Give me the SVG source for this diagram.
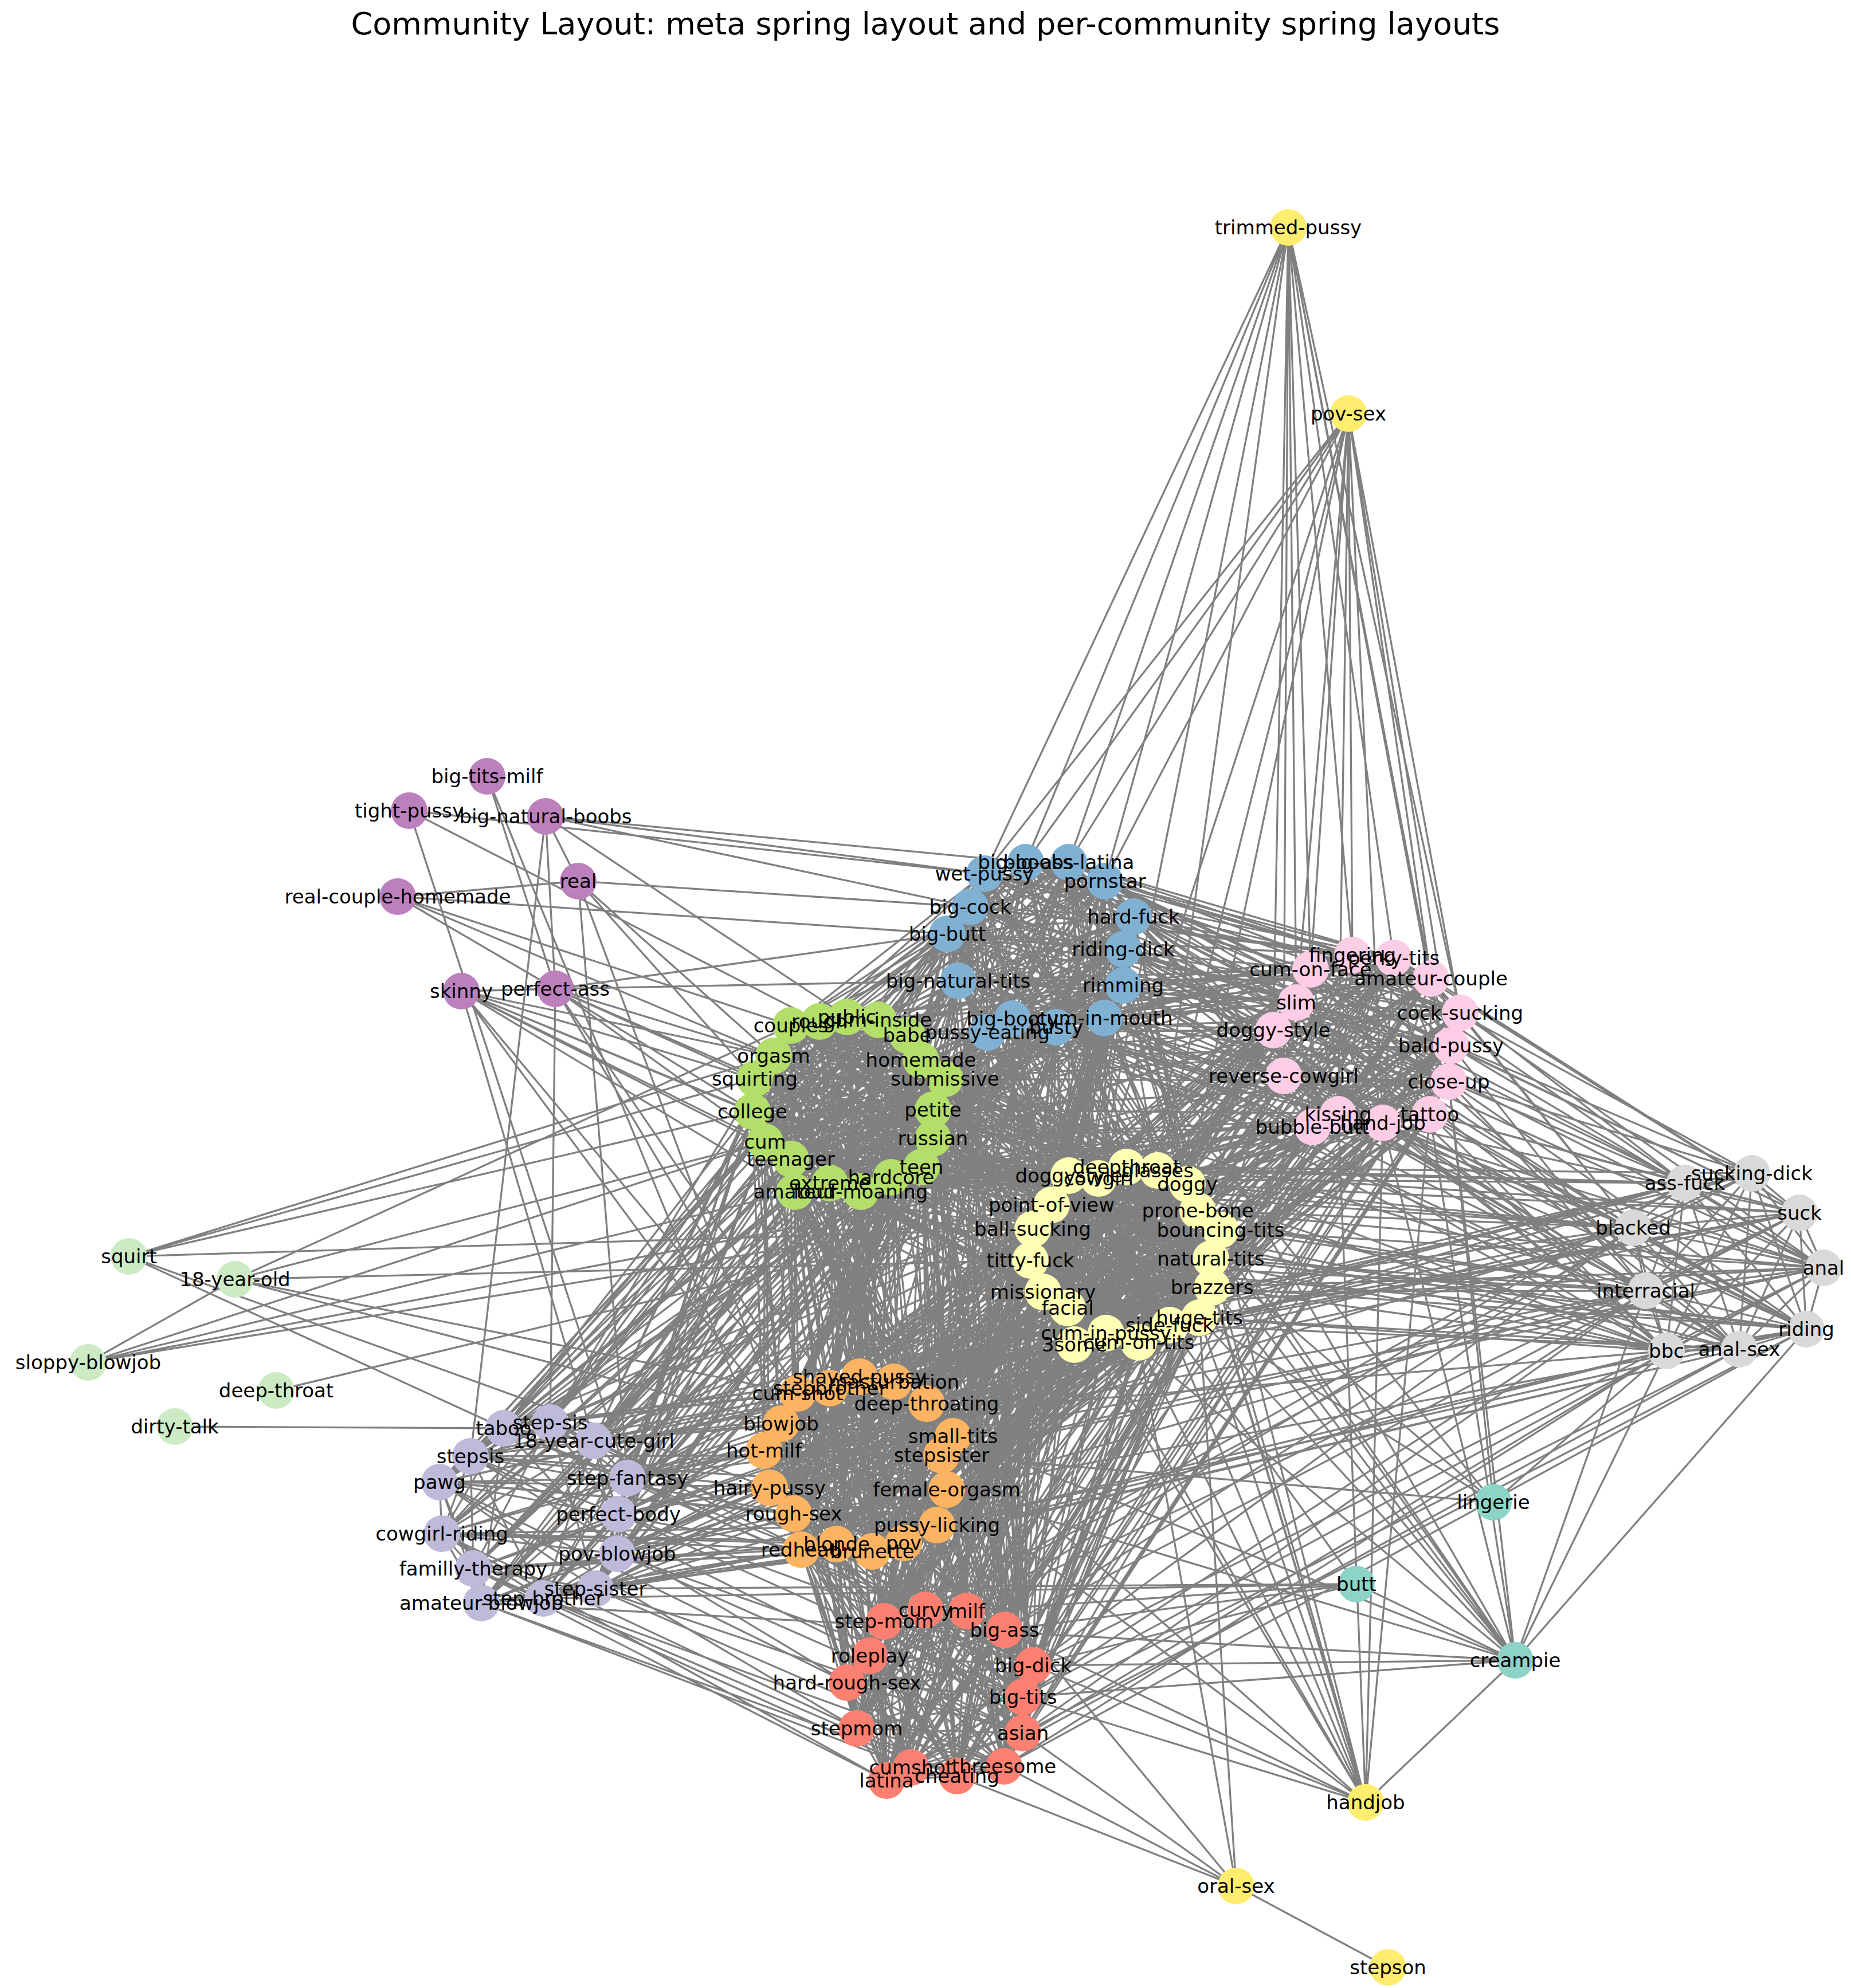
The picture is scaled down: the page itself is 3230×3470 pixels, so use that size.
<svg xmlns="http://www.w3.org/2000/svg" width="3230" height="3470" viewBox="0 0 3230 3470">
<style>
.e{fill:none;stroke:#808080;stroke-width:3.3;stroke-linejoin:round}
text{font-family:"DejaVu Sans","Liberation Sans",sans-serif;font-size:34px;text-anchor:middle;dominant-baseline:central;fill:#000}
text.title{font-size:54px;dominant-baseline:auto}
.cb{fill:#80b1d3}.cp{fill:#fccde5}.cg{fill:#b3de69}.cy{fill:#ffffb3}.co{fill:#fdb462}.cr{fill:#fb8072}
.cl{fill:#bebada}.cx{fill:#d9d9d9}.cu{fill:#bc80bd}.cw{fill:#ccebc5}.cz{fill:#ffed6f}.ct{fill:#8dd3c7}
</style>
<rect width="3230" height="3470" fill="#ffffff"/>
<text class="title" x="1615" y="60">Community Layout: meta spring layout and per-community spring layouts</text>
<g id="edges">
<g id="edges-blue">
<polygon class="e" points="1790,1505 1865,1505 1928,1538 1978,1600 1960,1657 1960,1720 1927,1777 1843,1793 1767,1778 1723,1802 1672,1712 1653,1630 1693,1583 1718,1525"/>
<polygon class="e" points="1790,1505 1928,1538 1960,1657 1927,1777 1767,1778 1672,1712 1693,1583"/>
<polygon class="e" points="1865,1505 1978,1600 1960,1720 1843,1793 1723,1802 1653,1630 1718,1525"/>
<polygon class="e" points="1790,1505 1978,1600 1927,1777 1723,1802 1693,1583 1865,1505 1960,1657 1843,1793 1672,1712 1718,1525 1928,1538 1960,1720 1767,1778 1653,1630"/>
<polygon class="e" points="1790,1505 1960,1657 1767,1778 1693,1583 1928,1538 1927,1777 1672,1712"/>
<polygon class="e" points="1865,1505 1960,1720 1723,1802 1718,1525 1978,1600 1843,1793 1653,1630"/>
<polygon class="e" points="1790,1505 1960,1720 1672,1712 1865,1505 1927,1777 1653,1630 1928,1538 1843,1793 1693,1583 1978,1600 1767,1778 1718,1525 1960,1657 1723,1802"/>
<polygon class="e" points="1790,1505 1927,1777 1693,1583 1960,1657 1672,1712 1928,1538 1767,1778"/>
<polygon class="e" points="1865,1505 1843,1793 1718,1525 1960,1720 1653,1630 1978,1600 1723,1802"/>
<path class="e" d="M1790 1505L1843 1793M1865 1505L1767 1778M1928 1538L1723 1802M1978 1600L1672 1712M1960 1657L1653 1630M1960 1720L1693 1583M1927 1777L1718 1525"/>
</g>
<g id="edges-pink">
<polygon class="e" points="2360,1667 2432,1672 2497,1708 2548,1768 2532,1825 2528,1888 2495,1945 2413,1960 2335,1945 2290,1967 2240,1878 2222,1798 2262,1750 2287,1692"/>
<polygon class="e" points="2360,1667 2497,1708 2532,1825 2495,1945 2335,1945 2240,1878 2262,1750"/>
<polygon class="e" points="2432,1672 2548,1768 2528,1888 2413,1960 2290,1967 2222,1798 2287,1692"/>
<polygon class="e" points="2360,1667 2548,1768 2495,1945 2290,1967 2262,1750 2432,1672 2532,1825 2413,1960 2240,1878 2287,1692 2497,1708 2528,1888 2335,1945 2222,1798"/>
<polygon class="e" points="2360,1667 2532,1825 2335,1945 2262,1750 2497,1708 2495,1945 2240,1878"/>
<polygon class="e" points="2432,1672 2528,1888 2290,1967 2287,1692 2548,1768 2413,1960 2222,1798"/>
<polygon class="e" points="2360,1667 2528,1888 2240,1878 2432,1672 2495,1945 2222,1798 2497,1708 2413,1960 2262,1750 2548,1768 2335,1945 2287,1692 2532,1825 2290,1967"/>
<polygon class="e" points="2360,1667 2495,1945 2262,1750 2532,1825 2240,1878 2497,1708 2335,1945"/>
<polygon class="e" points="2432,1672 2413,1960 2287,1692 2528,1888 2222,1798 2548,1768 2290,1967"/>
<path class="e" d="M2360 1667L2413 1960M2432 1672L2335 1945M2497 1708L2290 1967M2548 1768L2240 1878M2532 1825L2222 1798M2528 1888L2262 1750M2495 1945L2287 1692"/>
</g>
<g id="edges-red">
<polygon class="e" points="1615,2810 1687,2812 1753,2845 1803,2907 1785,2962 1785,3025 1752,3083 1670,3100 1590,3085 1547,3108 1495,3017 1478,2937 1518,2890 1543,2830"/>
<polygon class="e" points="1615,2810 1753,2845 1785,2962 1752,3083 1590,3085 1495,3017 1518,2890"/>
<polygon class="e" points="1687,2812 1803,2907 1785,3025 1670,3100 1547,3108 1478,2937 1543,2830"/>
<polygon class="e" points="1615,2810 1803,2907 1752,3083 1547,3108 1518,2890 1687,2812 1785,2962 1670,3100 1495,3017 1543,2830 1753,2845 1785,3025 1590,3085 1478,2937"/>
<polygon class="e" points="1615,2810 1785,2962 1590,3085 1518,2890 1753,2845 1752,3083 1495,3017"/>
<polygon class="e" points="1687,2812 1785,3025 1547,3108 1543,2830 1803,2907 1670,3100 1478,2937"/>
<polygon class="e" points="1615,2810 1785,3025 1495,3017 1687,2812 1752,3083 1478,2937 1753,2845 1670,3100 1518,2890 1803,2907 1590,3085 1543,2830 1785,2962 1547,3108"/>
<polygon class="e" points="1615,2810 1752,3083 1518,2890 1785,2962 1495,3017 1753,2845 1590,3085"/>
<polygon class="e" points="1687,2812 1670,3100 1543,2830 1785,3025 1478,2937 1803,2907 1547,3108"/>
<path class="e" d="M1615 2810L1670 3100M1687 2812L1590 3085M1753 2845L1547 3108M1803 2907L1495 3017M1785 2962L1478 2937M1785 3025L1518 2890M1752 3083L1543 2830"/>
</g>
<g id="edges-green">
<polygon class="e" points="1478,1775 1533,1780 1583,1807 1607,1850 1649,1883 1628,1937 1628,1987 1608,2037 1555,2055 1502,2080 1448,2065 1387,2080 1380,2023 1335,1993 1313,1940 1317,1883 1350,1843 1380,1790 1430,1783"/>
<polygon class="e" points="1478,1775 1583,1807 1649,1883 1628,1987 1555,2055 1448,2065 1380,2023 1313,1940 1350,1843 1430,1783 1533,1780 1607,1850 1628,1937 1608,2037 1502,2080 1387,2080 1335,1993 1317,1883 1380,1790"/>
<polygon class="e" points="1478,1775 1607,1850 1628,1987 1502,2080 1380,2023 1317,1883 1430,1783 1583,1807 1628,1937 1555,2055 1387,2080 1313,1940 1380,1790 1533,1780 1649,1883 1608,2037 1448,2065 1335,1993 1350,1843"/>
<polygon class="e" points="1478,1775 1649,1883 1555,2055 1380,2023 1350,1843 1533,1780 1628,1937 1502,2080 1335,1993 1380,1790 1583,1807 1628,1987 1448,2065 1313,1940 1430,1783 1607,1850 1608,2037 1387,2080 1317,1883"/>
<polygon class="e" points="1478,1775 1628,1937 1448,2065 1317,1883 1533,1780 1628,1987 1387,2080 1350,1843 1583,1807 1608,2037 1380,2023 1380,1790 1607,1850 1555,2055 1335,1993 1430,1783 1649,1883 1502,2080 1313,1940"/>
<polygon class="e" points="1478,1775 1628,1987 1380,2023 1430,1783 1628,1937 1387,2080 1380,1790 1649,1883 1448,2065 1350,1843 1607,1850 1502,2080 1317,1883 1583,1807 1555,2055 1313,1940 1533,1780 1608,2037 1335,1993"/>
<polygon class="e" points="1478,1775 1608,2037 1313,1940 1583,1807 1502,2080 1350,1843 1649,1883 1387,2080 1430,1783 1628,1987 1335,1993 1533,1780 1555,2055 1317,1883 1607,1850 1448,2065 1380,1790 1628,1937 1380,2023"/>
<polygon class="e" points="1478,1775 1555,2055 1350,1843 1628,1937 1335,1993 1583,1807 1448,2065 1430,1783 1608,2037 1317,1883 1649,1883 1380,2023 1533,1780 1502,2080 1380,1790 1628,1987 1313,1940 1607,1850 1387,2080"/>
<polygon class="e" points="1478,1775 1502,2080 1430,1783 1555,2055 1380,1790 1608,2037 1350,1843 1628,1987 1317,1883 1628,1937 1313,1940 1649,1883 1335,1993 1607,1850 1380,2023 1583,1807 1387,2080 1533,1780 1448,2065"/>
</g>
<g id="edges-yellow">
<polygon class="e" points="1966,2037 2020,2043 2072,2067 2090,2113 2130,2147 2113,2197 2115,2247 2093,2300 2041,2313 1987,2343 1930,2327 1875,2347 1863,2283 1820,2255 1798,2200 1802,2145 1835,2103 1865,2052 1917,2057"/>
<polygon class="e" points="1966,2037 2072,2067 2130,2147 2115,2247 2041,2313 1930,2327 1863,2283 1798,2200 1835,2103 1917,2057 2020,2043 2090,2113 2113,2197 2093,2300 1987,2343 1875,2347 1820,2255 1802,2145 1865,2052"/>
<polygon class="e" points="1966,2037 2090,2113 2115,2247 1987,2343 1863,2283 1802,2145 1917,2057 2072,2067 2113,2197 2041,2313 1875,2347 1798,2200 1865,2052 2020,2043 2130,2147 2093,2300 1930,2327 1820,2255 1835,2103"/>
<polygon class="e" points="1966,2037 2130,2147 2041,2313 1863,2283 1835,2103 2020,2043 2113,2197 1987,2343 1820,2255 1865,2052 2072,2067 2115,2247 1930,2327 1798,2200 1917,2057 2090,2113 2093,2300 1875,2347 1802,2145"/>
<polygon class="e" points="1966,2037 2113,2197 1930,2327 1802,2145 2020,2043 2115,2247 1875,2347 1835,2103 2072,2067 2093,2300 1863,2283 1865,2052 2090,2113 2041,2313 1820,2255 1917,2057 2130,2147 1987,2343 1798,2200"/>
<polygon class="e" points="1966,2037 2115,2247 1863,2283 1917,2057 2113,2197 1875,2347 1865,2052 2130,2147 1930,2327 1835,2103 2090,2113 1987,2343 1802,2145 2072,2067 2041,2313 1798,2200 2020,2043 2093,2300 1820,2255"/>
<polygon class="e" points="1966,2037 2093,2300 1798,2200 2072,2067 1987,2343 1835,2103 2130,2147 1875,2347 1917,2057 2115,2247 1820,2255 2020,2043 2041,2313 1802,2145 2090,2113 1930,2327 1865,2052 2113,2197 1863,2283"/>
<polygon class="e" points="1966,2037 2041,2313 1835,2103 2113,2197 1820,2255 2072,2067 1930,2327 1917,2057 2093,2300 1802,2145 2130,2147 1863,2283 2020,2043 1987,2343 1865,2052 2115,2247 1798,2200 2090,2113 1875,2347"/>
<polygon class="e" points="1966,2037 1987,2343 1917,2057 2041,2313 1865,2052 2093,2300 1835,2103 2115,2247 1802,2145 2113,2197 1798,2200 2130,2147 1820,2255 2090,2113 1863,2283 2072,2067 1875,2347 2020,2043 1930,2327"/>
</g>
<g id="edges-orange">
<polygon class="e" points="1500,2403 1560,2412 1617,2450 1663,2507 1643,2540 1652,2600 1635,2662 1577,2693 1522,2708 1460,2695 1398,2705 1385,2642 1343,2597 1333,2532 1363,2485 1392,2432 1448,2423"/>
<polygon class="e" points="1500,2403 1617,2450 1643,2540 1635,2662 1522,2708 1398,2705 1343,2597 1363,2485 1448,2423 1560,2412 1663,2507 1652,2600 1577,2693 1460,2695 1385,2642 1333,2532 1392,2432"/>
<polygon class="e" points="1500,2403 1663,2507 1635,2662 1460,2695 1343,2597 1392,2432 1560,2412 1643,2540 1577,2693 1398,2705 1333,2532 1448,2423 1617,2450 1652,2600 1522,2708 1385,2642 1363,2485"/>
<polygon class="e" points="1500,2403 1643,2540 1522,2708 1343,2597 1448,2423 1663,2507 1577,2693 1385,2642 1392,2432 1617,2450 1635,2662 1398,2705 1363,2485 1560,2412 1652,2600 1460,2695 1333,2532"/>
<polygon class="e" points="1500,2403 1652,2600 1398,2705 1392,2432 1663,2507 1522,2708 1333,2532 1560,2412 1635,2662 1385,2642 1448,2423 1643,2540 1460,2695 1363,2485 1617,2450 1577,2693 1343,2597"/>
<polygon class="e" points="1500,2403 1635,2662 1343,2597 1560,2412 1577,2693 1333,2532 1617,2450 1522,2708 1363,2485 1663,2507 1460,2695 1392,2432 1643,2540 1398,2705 1448,2423 1652,2600 1385,2642"/>
<polygon class="e" points="1500,2403 1577,2693 1363,2485 1643,2540 1385,2642 1560,2412 1522,2708 1392,2432 1652,2600 1343,2597 1617,2450 1460,2695 1448,2423 1635,2662 1333,2532 1663,2507 1398,2705"/>
<polygon class="e" points="1500,2403 1522,2708 1448,2423 1577,2693 1392,2432 1635,2662 1363,2485 1652,2600 1333,2532 1643,2540 1343,2597 1663,2507 1385,2642 1617,2450 1398,2705 1560,2412 1460,2695"/>
</g>
<g id="edges-lavender">
<polygon class="e" points="879,2493 960,2483 1036,2515 1095,2580 1079,2643 1077,2712 1039,2773 948,2790 840,2798 826,2738 771,2677 767,2587 821,2542"/>
<polygon class="e" points="879,2493 1036,2515 1079,2643 1039,2773 840,2798 771,2677 821,2542 960,2483 1095,2580 1077,2712 948,2790 826,2738 767,2587"/>
<polygon class="e" points="879,2493 1095,2580 1039,2773 826,2738 821,2542 1036,2515 1077,2712 840,2798 767,2587 960,2483 1079,2643 948,2790 771,2677"/>
<polygon class="e" points="879,2493 1077,2712 771,2677 1036,2515 948,2790 821,2542 1079,2643 826,2738 960,2483 1039,2773 767,2587 1095,2580 840,2798"/>
</g>
<g id="edges-gray">
<polygon class="e" points="3057,2048 2940,2065 3140,2117 2850,2143 3182,2213 2872,2253 3152,2320 2908,2358 3035,2355"/>
<polygon class="e" points="3057,2048 3140,2117 3182,2213 3152,2320 3035,2355 2940,2065 2850,2143 2872,2253 2908,2358"/>
<polygon class="e" points="3057,2048 2850,2143 3152,2320"/>
<polygon class="e" points="2940,2065 3182,2213 2908,2358"/>
<polygon class="e" points="3140,2117 2872,2253 3035,2355"/>
<polygon class="e" points="3057,2048 3182,2213 3035,2355 2850,2143 2908,2358 3140,2117 3152,2320 2940,2065 2872,2253"/>
</g>
<g id="edges-between">
<polyline class="e" points="1790,1505 1478,1775 1865,1505 1533,1780 1928,1538 1583,1807 1978,1600 1607,1850 1960,1657 1649,1883 1960,1720 1628,1937 1927,1777 1628,1987 1843,1793 1608,2037 1767,1778 1555,2055 1723,1802 1502,2080 1672,1712 1448,2065 1653,1630 1387,2080 1693,1583 1380,2023 1718,1525 1335,1993"/>
<polyline class="e" points="1790,1505 1430,1783 1865,1505 1380,1790 1928,1538 1350,1843 1978,1600 1317,1883 1960,1657 1313,1940 1960,1720 1335,1993 1927,1777 1380,2023 1843,1793 1387,2080 1767,1778 1448,2065 1723,1802 1502,2080 1672,1712 1555,2055 1653,1630 1608,2037 1693,1583 1628,1987 1718,1525 1628,1937"/>
<polyline class="e" points="1790,1505 1628,1937 1865,1505 1628,1987 1928,1538 1608,2037 1978,1600 1555,2055 1960,1657 1502,2080 1960,1720 1448,2065 1927,1777 1387,2080 1843,1793 1380,2023 1767,1778 1335,1993 1723,1802 1313,1940 1672,1712 1317,1883 1653,1630 1350,1843 1693,1583 1380,1790 1718,1525 1430,1783"/>
<polyline class="e" points="1790,1505 2360,1667 1865,1505 2432,1672 1928,1538 2497,1708 1978,1600 2548,1768 1960,1657 2532,1825 1960,1720 2528,1888 1927,1777 2495,1945 1843,1793 2413,1960 1767,1778 2335,1945 1723,1802 2290,1967 1672,1712 2240,1878 1653,1630 2222,1798 1693,1583 2262,1750 1718,1525 2287,1692"/>
<polyline class="e" points="1790,1505 2413,1960 1865,1505 2335,1945 1928,1538 2290,1967 1978,1600 2240,1878 1960,1657 2222,1798 1960,1720 2262,1750 1927,1777 2287,1692 1843,1793 2360,1667 1767,1778 2432,1672 1723,1802 2497,1708 1672,1712 2548,1768 1653,1630 2532,1825 1693,1583 2528,1888 1718,1525 2495,1945"/>
<polyline class="e" points="1790,1505 2548,1768 1865,1505 2532,1825 1928,1538 2528,1888 1978,1600 2495,1945 1960,1657 2413,1960 1960,1720 2335,1945 1927,1777 2290,1967 1843,1793 2240,1878 1767,1778 2222,1798 1723,1802 2262,1750 1672,1712 2287,1692 1653,1630 2360,1667 1693,1583 2432,1672 1718,1525 2497,1708"/>
<polyline class="e" points="1790,1505 1966,2037 1865,1505 2020,2043 1928,1538 2072,2067 1978,1600 2090,2113 1960,1657 2130,2147 1960,1720 2113,2197 1927,1777 2115,2247 1843,1793 2093,2300 1767,1778 2041,2313 1723,1802 1987,2343 1672,1712 1930,2327 1653,1630 1875,2347 1693,1583 1863,2283 1718,1525 1820,2255"/>
<polyline class="e" points="1790,1505 1917,2057 1865,1505 1865,2052 1928,1538 1835,2103 1978,1600 1802,2145 1960,1657 1798,2200 1960,1720 1820,2255 1927,1777 1863,2283 1843,1793 1875,2347 1767,1778 1930,2327 1723,1802 1987,2343 1672,1712 2041,2313 1653,1630 2093,2300 1693,1583 2115,2247 1718,1525 2113,2197"/>
<polyline class="e" points="1790,1505 1987,2343 1865,1505 1930,2327 1928,1538 1875,2347 1978,1600 1863,2283 1960,1657 1820,2255 1960,1720 1798,2200 1927,1777 1802,2145 1843,1793 1835,2103 1767,1778 1865,2052 1723,1802 1917,2057 1672,1712 1966,2037 1653,1630 2020,2043 1693,1583 2072,2067 1718,1525 2090,2113"/>
<polyline class="e" points="1478,1775 1966,2037 1533,1780 2020,2043 1583,1807 2072,2067 1607,1850 2090,2113 1649,1883 2130,2147 1628,1937 2113,2197 1628,1987 2115,2247 1608,2037 2093,2300 1555,2055 2041,2313 1502,2080 1987,2343 1448,2065 1930,2327 1387,2080 1875,2347 1380,2023 1863,2283 1335,1993 1820,2255 1313,1940 1798,2200 1317,1883 1802,2145 1350,1843 1835,2103 1380,1790 1865,2052 1430,1783 1917,2057"/>
<polyline class="e" points="1478,1775 1987,2343 1533,1780 1930,2327 1583,1807 1875,2347 1607,1850 1863,2283 1649,1883 1820,2255 1628,1937 1798,2200 1628,1987 1802,2145 1608,2037 1835,2103 1555,2055 1865,2052 1502,2080 1917,2057 1448,2065 1966,2037 1387,2080 2020,2043 1380,2023 2072,2067 1335,1993 2090,2113 1313,1940 2130,2147 1317,1883 2113,2197 1350,1843 2115,2247 1380,1790 2093,2300 1430,1783 2041,2313"/>
<polyline class="e" points="1478,1775 2113,2197 1533,1780 2115,2247 1583,1807 2093,2300 1607,1850 2041,2313 1649,1883 1987,2343 1628,1937 1930,2327 1628,1987 1875,2347 1608,2037 1863,2283 1555,2055 1820,2255 1502,2080 1798,2200 1448,2065 1802,2145 1387,2080 1835,2103 1380,2023 1865,2052 1335,1993 1917,2057 1313,1940 1966,2037 1317,1883 2020,2043 1350,1843 2072,2067 1380,1790 2090,2113 1430,1783 2130,2147"/>
<polyline class="e" points="2360,1667 1966,2037 2432,1672 2020,2043 2497,1708 2072,2067 2548,1768 2090,2113 2532,1825 2130,2147 2528,1888 2113,2197 2495,1945 2115,2247 2413,1960 2093,2300 2335,1945 2041,2313 2290,1967 1987,2343 2240,1878 1930,2327 2222,1798 1875,2347 2262,1750 1863,2283 2287,1692 1820,2255"/>
<polyline class="e" points="2360,1667 2113,2197 2432,1672 2115,2247 2497,1708 2093,2300 2548,1768 2041,2313 2532,1825 1987,2343 2528,1888 1930,2327 2495,1945 1875,2347 2413,1960 1863,2283 2335,1945 1820,2255 2290,1967 1798,2200 2240,1878 1802,2145 2222,1798 1835,2103 2262,1750 1865,2052 2287,1692 1917,2057"/>
<polyline class="e" points="2360,1667 1930,2327 2432,1672 1875,2347 2497,1708 1863,2283 2548,1768 1820,2255 2532,1825 1798,2200 2528,1888 1802,2145 2495,1945 1835,2103 2413,1960 1865,2052 2335,1945 1917,2057 2290,1967 1966,2037 2240,1878 2020,2043 2222,1798 2072,2067 2262,1750 2090,2113 2287,1692 2130,2147"/>
<polyline class="e" points="1478,1775 1500,2403 1533,1780 1560,2412 1583,1807 1617,2450 1607,1850 1663,2507 1649,1883 1643,2540 1628,1937 1652,2600 1628,1987 1635,2662 1608,2037 1577,2693 1555,2055 1522,2708 1502,2080 1460,2695 1448,2065 1398,2705 1387,2080 1385,2642 1380,2023 1343,2597 1335,1993 1333,2532 1313,1940 1363,2485 1317,1883 1392,2432 1350,1843 1448,2423"/>
<polyline class="e" points="1583,1807 1448,2423 1607,1850 1392,2432 1649,1883 1363,2485 1628,1937 1333,2532 1628,1987 1343,2597 1608,2037 1385,2642 1555,2055 1398,2705 1502,2080 1460,2695 1448,2065 1522,2708 1387,2080 1577,2693 1380,2023 1635,2662 1335,1993 1652,2600 1313,1940 1643,2540 1317,1883 1663,2507 1350,1843 1617,2450 1380,1790 1560,2412 1430,1783 1500,2403"/>
<polyline class="e" points="1478,1775 1522,2708 1533,1780 1460,2695 1583,1807 1398,2705 1607,1850 1385,2642 1649,1883 1343,2597 1628,1937 1333,2532 1628,1987 1363,2485 1608,2037 1392,2432 1555,2055 1448,2423 1502,2080 1500,2403 1448,2065 1560,2412 1387,2080 1617,2450 1380,2023 1663,2507 1335,1993 1643,2540 1313,1940 1652,2600 1317,1883 1635,2662 1350,1843 1577,2693"/>
<polyline class="e" points="1500,2403 1966,2037 1560,2412 2020,2043 1617,2450 2072,2067 1663,2507 2090,2113 1643,2540 2130,2147 1652,2600 2113,2197 1635,2662 2115,2247 1577,2693 2093,2300 1522,2708 2041,2313 1460,2695 1987,2343 1398,2705 1930,2327 1385,2642 1875,2347 1343,2597 1863,2283 1333,2532 1820,2255 1363,2485 1798,2200 1392,2432 1802,2145 1448,2423 1835,2103"/>
<polyline class="e" points="1500,2403 1930,2327 1560,2412 1875,2347 1617,2450 1863,2283 1663,2507 1820,2255 1643,2540 1798,2200 1652,2600 1802,2145 1635,2662 1835,2103 1577,2693 1865,2052 1522,2708 1917,2057 1460,2695 1966,2037 1398,2705 2020,2043 1385,2642 2072,2067 1343,2597 2090,2113 1333,2532 2130,2147 1363,2485 2113,2197 1392,2432 2115,2247 1448,2423 2093,2300"/>
<polyline class="e" points="1500,2403 2113,2197 1560,2412 2115,2247 1617,2450 2093,2300 1663,2507 2041,2313 1643,2540 1987,2343 1652,2600 1930,2327 1635,2662 1875,2347 1577,2693 1863,2283 1522,2708 1820,2255 1460,2695 1798,2200 1398,2705 1802,2145 1385,2642 1835,2103 1343,2597 1865,2052 1333,2532 1917,2057 1363,2485 1966,2037 1392,2432 2020,2043 1448,2423 2072,2067"/>
<polyline class="e" points="1615,2810 1500,2403 1687,2812 1560,2412 1753,2845 1617,2450 1803,2907 1663,2507 1785,2962 1643,2540 1785,3025 1652,2600 1752,3083 1635,2662 1670,3100 1577,2693 1590,3085 1522,2708 1547,3108 1460,2695 1495,3017 1398,2705 1478,2937 1385,2642 1518,2890 1343,2597 1543,2830 1333,2532"/>
<polyline class="e" points="1615,2810 1448,2423 1687,2812 1392,2432 1753,2845 1363,2485 1803,2907 1333,2532 1785,2962 1343,2597 1785,3025 1385,2642 1752,3083 1398,2705 1670,3100 1460,2695 1590,3085 1522,2708 1547,3108 1577,2693 1495,3017 1635,2662 1478,2937 1652,2600 1518,2890 1643,2540 1543,2830 1663,2507"/>
<polyline class="e" points="1615,2810 1652,2600 1687,2812 1635,2662 1753,2845 1577,2693 1803,2907 1522,2708 1785,2962 1460,2695 1785,3025 1398,2705 1752,3083 1385,2642 1670,3100 1343,2597 1590,3085 1333,2532 1547,3108 1363,2485 1495,3017 1392,2432 1478,2937 1448,2423 1518,2890 1500,2403 1543,2830 1560,2412"/>
<polyline class="e" points="1615,2810 1966,2037 1687,2812 2020,2043 1753,2845 2072,2067 1803,2907 2090,2113 1785,2962 2130,2147 1785,3025 2113,2197 1752,3083 2115,2247 1670,3100 2093,2300 1590,3085 2041,2313 1547,3108 1987,2343 1495,3017 1930,2327 1478,2937 1875,2347 1518,2890 1863,2283 1543,2830 1820,2255"/>
<polyline class="e" points="1615,2810 2113,2197 1687,2812 2115,2247 1753,2845 2093,2300 1803,2907 2041,2313 1785,2962 1987,2343 1785,3025 1930,2327 1752,3083 1875,2347 1670,3100 1863,2283 1590,3085 1820,2255 1547,3108 1798,2200 1495,3017 1802,2145 1478,2937 1835,2103 1518,2890 1865,2052 1543,2830 1917,2057"/>
<polyline class="e" points="1615,2810 1930,2327 1687,2812 1875,2347 1753,2845 1863,2283 1803,2907 1820,2255 1785,2962 1798,2200 1785,3025 1802,2145 1752,3083 1835,2103 1670,3100 1865,2052 1590,3085 1917,2057 1547,3108 1966,2037 1495,3017 2020,2043 1478,2937 2072,2067 1518,2890 2090,2113 1543,2830 2130,2147"/>
<polyline class="e" points="1790,1505 1500,2403 1865,1505 1560,2412 1928,1538 1617,2450 1978,1600 1663,2507 1960,1657 1643,2540 1960,1720 1652,2600 1927,1777 1635,2662 1843,1793 1577,2693 1767,1778 1522,2708 1723,1802 1460,2695 1672,1712 1398,2705 1653,1630 1385,2642 1693,1583 1343,2597 1718,1525 1333,2532"/>
<polyline class="e" points="1790,1505 1543,2830 1865,1505 1518,2890 1928,1538 1478,2937 1978,1600 1495,3017 1960,1657 1547,3108 1960,1720 1590,3085 1927,1777 1670,3100 1843,1793 1752,3083 1767,1778 1785,3025 1723,1802 1785,2962 1672,1712 1803,2907 1653,1630 1753,2845 1693,1583 1687,2812 1718,1525 1615,2810"/>
<polyline class="e" points="2360,1667 1500,2403 2432,1672 1560,2412 2497,1708 1617,2450 2548,1768 1663,2507 2532,1825 1643,2540 2528,1888 1652,2600 2495,1945 1635,2662 2413,1960 1577,2693 2335,1945 1522,2708 2290,1967 1460,2695 2240,1878 1398,2705 2222,1798 1385,2642 2262,1750 1343,2597 2287,1692 1333,2532"/>
<polyline class="e" points="2360,1667 1615,2810 2432,1672 1687,2812 2497,1708 1753,2845 2548,1768 1803,2907 2532,1825 1785,2962 2528,1888 1785,3025 2495,1945 1752,3083 2413,1960 1670,3100 2335,1945 1590,3085 2290,1967 1547,3108 2240,1878 1495,3017 2222,1798 1478,2937 2262,1750 1518,2890 2287,1692 1543,2830"/>
<polyline class="e" points="1478,1775 1615,2810 1533,1780 1687,2812 1583,1807 1753,2845 1607,1850 1803,2907 1649,1883 1785,2962 1628,1937 1785,3025 1628,1987 1752,3083 1608,2037 1670,3100 1555,2055 1590,3085 1502,2080 1547,3108 1448,2065 1495,3017 1387,2080 1478,2937 1380,2023 1518,2890 1335,1993 1543,2830"/>
<polyline class="e" points="2360,1667 1478,1775 2432,1672 1533,1780 2497,1708 1583,1807 2548,1768 1607,1850 2532,1825 1649,1883 2528,1888 1628,1937 2495,1945 1628,1987 2413,1960 1608,2037 2335,1945 1555,2055 2290,1967 1502,2080 2240,1878 1448,2065 2222,1798 1387,2080 2262,1750 1380,2023 2287,1692 1335,1993"/>
<polyline class="e" points="879,2493 1500,2403 960,2483 1560,2412 1036,2515 1617,2450 1095,2580 1663,2507 1079,2643 1643,2540 1077,2712 1652,2600 1039,2773 1635,2662 948,2790 1577,2693 840,2798 1522,2708 826,2738 1460,2695 771,2677 1398,2705 767,2587 1385,2642 821,2542 1343,2597"/>
<polyline class="e" points="879,2493 1448,2423 960,2483 1392,2432 1036,2515 1363,2485 1095,2580 1333,2532 1079,2643 1343,2597 1077,2712 1385,2642 1039,2773 1398,2705 948,2790 1460,2695 840,2798 1522,2708 826,2738 1577,2693 771,2677 1635,2662 767,2587 1652,2600 821,2542 1643,2540"/>
<polyline class="e" points="879,2493 1478,1775 960,2483 1533,1780 1036,2515 1583,1807 1095,2580 1607,1850 1079,2643 1649,1883 1077,2712 1628,1937 1039,2773 1628,1987 948,2790 1608,2037 840,2798 1555,2055 826,2738 1502,2080 771,2677 1448,2065 767,2587 1387,2080 821,2542 1380,2023"/>
<polyline class="e" points="879,2493 1430,1783 960,2483 1380,1790 1036,2515 1350,1843 1095,2580 1317,1883 1079,2643 1313,1940 1077,2712 1335,1993 1039,2773 1380,2023 948,2790 1387,2080 840,2798 1448,2065 826,2738 1502,2080 771,2677 1555,2055 767,2587 1608,2037 821,2542 1628,1987"/>
<polyline class="e" points="879,2493 1966,2037 960,2483 2020,2043 1036,2515 2072,2067 1095,2580 2090,2113 1079,2643 2130,2147 1077,2712 2113,2197 1039,2773 2115,2247 948,2790 2093,2300 840,2798 2041,2313 826,2738 1987,2343 771,2677 1930,2327 767,2587 1875,2347 821,2542 1863,2283"/>
<polyline class="e" points="879,2493 1615,2810 960,2483 1687,2812 1036,2515 1753,2845 1095,2580 1803,2907 1079,2643 1785,2962 1077,2712 1785,3025 1039,2773 1752,3083 948,2790 1670,3100 840,2798 1590,3085 826,2738 1547,3108 771,2677 1495,3017 767,2587 1478,2937 821,2542 1518,2890"/>
<polyline class="e" points="879,2493 1790,1505 960,2483 1865,1505 1036,2515 1928,1538 1095,2580 1978,1600 1079,2643 1960,1657 1077,2712 1960,1720 1039,2773 1927,1777 948,2790 1843,1793 840,2798 1767,1778 826,2738 1723,1802 771,2677 1672,1712 767,2587 1653,1630 821,2542 1693,1583"/>
<polyline class="e" points="879,2493 1672,1712 960,2483 1653,1630 1036,2515 1723,1802 821,2542 1767,1778 767,2587 1693,1583"/>
<path class="e" d="M840 2798L2644 2898M948 2790L2367 2765"/>
<polyline class="e" points="3057,2048 2360,1667 2940,2065 2432,1672 3140,2117 2497,1708 2850,2143 2548,1768 3182,2213 2532,1825 2872,2253 2528,1888 3152,2320 2495,1945 2908,2358 2413,1960 3035,2355 2335,1945"/>
<polyline class="e" points="3057,2048 2528,1888 2940,2065 2495,1945 3140,2117 2413,1960 2850,2143 2335,1945 3182,2213 2290,1967 2872,2253 2240,1878 3152,2320 2222,1798 2908,2358 2262,1750 3035,2355 2287,1692"/>
<polyline class="e" points="3057,2048 1966,2037 2940,2065 2020,2043 3140,2117 2072,2067 2850,2143 2090,2113 3182,2213 2130,2147 2872,2253 2113,2197 3152,2320 2115,2247 2908,2358 2093,2300 3035,2355 2041,2313"/>
<polyline class="e" points="3057,2048 1987,2343 2940,2065 1930,2327 3140,2117 1875,2347 2850,2143 1863,2283 3182,2213 1820,2255 2872,2253 1798,2200 3152,2320 1802,2145 2908,2358 1835,2103 3035,2355 1865,2052"/>
<polyline class="e" points="3057,2048 1500,2403 2940,2065 1560,2412 3140,2117 1617,2450 2850,2143 1663,2507 3182,2213 1643,2540 2872,2253 1652,2600 3152,2320 1635,2662 2908,2358 1577,2693 3035,2355 1522,2708"/>
<polyline class="e" points="3057,2048 1615,2810 2940,2065 1687,2812 3140,2117 1753,2845 2850,2143 1803,2907 3182,2213 1785,2962 2872,2253 1785,3025 3152,2320 1752,3083 2908,2358 1670,3100 3035,2355 1590,3085"/>
<polyline class="e" points="3057,2048 1790,1505 2940,2065 1865,1505 3140,2117 1928,1538 2850,2143 1978,1600 3182,2213 1960,1657 2872,2253 1960,1720 3152,2320 1927,1777 2908,2358 1843,1793 3035,2355 1767,1778"/>
<polyline class="e" points="2940,2065 1555,2055 2850,2143 1380,2023 2872,2253 1649,1883 2908,2358 1350,1843"/>
<path class="e" d="M2908 2358L1036 2515M2872 2253L1095 2580"/>
</g>
<g id="edges-outer">
<path class="e" d="M850 1355L969 1726M850 1355L1333 2532M714 1415L1095 2580M714 1415L1430 1783M714 1415L1718 1525M952 1425L1009 1538M952 1425L969 1726M952 1425L1790 1505M952 1425L1718 1525M952 1425L1693 1583M952 1425L1478 1775M952 1425L821 2542M1009 1538L1693 1583M1009 1538L1350 1843M1009 1538L1317 1883M1009 1538L1095 2580M1009 1538L1363 2485M694 1565L1009 1538M694 1565L969 1726M694 1565L1653 1630M694 1565L1380 1790M694 1565L1350 1843M805 1730L1036 2515M805 1730L1363 2485M805 1730L1313 1940M805 1730L1317 1883M805 1730L1335 1993M805 1730L1380 2023M805 1730L1350 1843M805 1730L1387 2080M805 1730L1392 2432M805 1730L1802 2145M805 1730L969 1726M969 1726L1653 1630M969 1726L1672 1712M969 1726L1317 1883M969 1726L1313 1940M969 1726L1350 1843M969 1726L1380 2023M969 1726L1448 2423M969 1726L960 2483M969 1726L1392 2432M969 1726L1835 2103"/>
<path class="e" d="M225 2193L1317 1883M225 2193L1350 1843M225 2193L1313 1940M225 2193L1802 2145M225 2193L1343 2597M225 2193L879 2493M410 2233L1380 1790M410 2233L1335 1993M410 2233L1798 2200M410 2233L1363 2485M410 2233L1392 2432M410 2233L154 2378M154 2378L1387 2080M154 2378L1865 2052M154 2378L1835 2103M154 2378L1335 1993M482 2427L1835 2103M305 2490L879 2493"/>
<path class="e" d="M2248 397L1790 1505M2248 397L1865 1505M2248 397L1718 1525M2248 397L1928 1538M2248 397L1917 2057M2248 397L2262 1750M2248 397L2287 1692M2248 397L2240 1878M2248 397L2360 1667M2248 397L2432 1672M2248 397L2497 1708M2248 397L2548 1768M2248 397L2528 1888M2248 397L2020 2043M2248 397L2222 1798"/>
<path class="e" d="M2353 722L1790 1505M2353 722L1718 1525M2353 722L1865 1505M2353 722L1928 1538M2353 722L1917 2057M2353 722L2020 2043M2353 722L2360 1667M2353 722L2335 1945M2353 722L2413 1960M2353 722L2497 1708M2353 722L2548 1768M2353 722L2532 1825M2353 722L2287 1692M2353 722L2262 1750M2353 722L2072 2067"/>
<path class="e" d="M2383 3146L2115 2247M2383 3146L2093 2300M2383 3146L2113 2197M2383 3146L2041 2313M2383 3146L2130 2147M2383 3146L1987 2343M2383 3146L2413 1960M2383 3146L2495 1945M2383 3146L2335 1945M2383 3146L1803 2907M2383 3146L1785 2962M2383 3146L1753 2845M2383 3146L1652 2600M2383 3146L1663 2507M2383 3146L1960 1720M2383 3146L2644 2898M2383 3146L1649 1883M2383 3146L1863 2283"/>
<path class="e" d="M2157 3292L1752 3083M2157 3292L1785 3025M2157 3292L1670 3100M2157 3292L1987 2343M2157 3292L2093 2300M2157 3292L1635 2662M2157 3292L2422 3434"/>
<path class="e" d="M2606 2622L2113 2197M2606 2622L2093 2300M2606 2622L1643 2540M2606 2622L1927 1777M2606 2622L2528 1888M2606 2622L2908 2358"/>
<path class="e" d="M2367 2765L1753 2845M2367 2765L1803 2907M2367 2765L1687 2812M2367 2765L2644 2898M2367 2765L2041 2313M2367 2765L1039 2773"/>
<path class="e" d="M2644 2898L2130 2147M2644 2898L2113 2197M2644 2898L2115 2247M2644 2898L2093 2300M2644 2898L2090 2113M2644 2898L2495 1945M2644 2898L2528 1888M2644 2898L2413 1960M2644 2898L3152 2320M2644 2898L2908 2358M2644 2898L2872 2253M2644 2898L1803 2907M2644 2898L1785 2962M2644 2898L1663 2507M2644 2898L1608 2037M2644 2898L1960 1720M2644 2898L1652 2600"/>
</g>
</g>
<g id="nodes">
<g id="n-big-boobs"><circle class="cb" cx="1790" cy="1505" r="32"/></g>
<g id="n-big-ass-latina"><circle class="cb" cx="1865" cy="1505" r="32"/></g>
<g id="n-pornstar"><circle class="cb" cx="1928" cy="1538" r="32"/></g>
<g id="n-hard-fuck"><circle class="cb" cx="1978" cy="1600" r="32"/></g>
<g id="n-riding-dick"><circle class="cb" cx="1960" cy="1657" r="32"/></g>
<g id="n-rimming"><circle class="cb" cx="1960" cy="1720" r="32"/></g>
<g id="n-cum-in-mouth"><circle class="cb" cx="1927" cy="1777" r="32"/></g>
<g id="n-busty"><circle class="cb" cx="1843" cy="1793" r="32"/></g>
<g id="n-big-booty"><circle class="cb" cx="1767" cy="1778" r="32"/></g>
<g id="n-pussy-eating"><circle class="cb" cx="1723" cy="1802" r="32"/></g>
<g id="n-big-natural-tits"><circle class="cb" cx="1672" cy="1712" r="32"/></g>
<g id="n-big-butt"><circle class="cb" cx="1653" cy="1630" r="32"/></g>
<g id="n-big-cock"><circle class="cb" cx="1693" cy="1583" r="32"/></g>
<g id="n-wet-pussy"><circle class="cb" cx="1718" cy="1525" r="32"/></g>
<g id="n-fingering"><circle class="cp" cx="2360" cy="1667" r="32"/></g>
<g id="n-perky-tits"><circle class="cp" cx="2432" cy="1672" r="32"/></g>
<g id="n-amateur-couple"><circle class="cp" cx="2497" cy="1708" r="32"/></g>
<g id="n-cock-sucking"><circle class="cp" cx="2548" cy="1768" r="32"/></g>
<g id="n-bald-pussy"><circle class="cp" cx="2532" cy="1825" r="32"/></g>
<g id="n-close-up"><circle class="cp" cx="2528" cy="1888" r="32"/></g>
<g id="n-tattoo"><circle class="cp" cx="2495" cy="1945" r="32"/></g>
<g id="n-hand-job"><circle class="cp" cx="2413" cy="1960" r="32"/></g>
<g id="n-kissing"><circle class="cp" cx="2335" cy="1945" r="32"/></g>
<g id="n-bubble-butt"><circle class="cp" cx="2290" cy="1967" r="32"/></g>
<g id="n-reverse-cowgirl"><circle class="cp" cx="2240" cy="1878" r="32"/></g>
<g id="n-doggy-style"><circle class="cp" cx="2222" cy="1798" r="32"/></g>
<g id="n-slim"><circle class="cp" cx="2262" cy="1750" r="32"/></g>
<g id="n-cum-on-face"><circle class="cp" cx="2287" cy="1692" r="32"/></g>
<g id="n-public"><circle class="cg" cx="1478" cy="1775" r="32"/></g>
<g id="n-cum-inside"><circle class="cg" cx="1533" cy="1780" r="32"/></g>
<g id="n-babe"><circle class="cg" cx="1583" cy="1807" r="32"/></g>
<g id="n-homemade"><circle class="cg" cx="1607" cy="1850" r="32"/></g>
<g id="n-submissive"><circle class="cg" cx="1649" cy="1883" r="32"/></g>
<g id="n-petite"><circle class="cg" cx="1628" cy="1937" r="32"/></g>
<g id="n-russian"><circle class="cg" cx="1628" cy="1987" r="32"/></g>
<g id="n-teen"><circle class="cg" cx="1608" cy="2037" r="32"/></g>
<g id="n-hardcore"><circle class="cg" cx="1555" cy="2055" r="32"/></g>
<g id="n-loud-moaning"><circle class="cg" cx="1502" cy="2080" r="32"/></g>
<g id="n-extreme"><circle class="cg" cx="1448" cy="2065" r="32"/></g>
<g id="n-amateur"><circle class="cg" cx="1387" cy="2080" r="32"/></g>
<g id="n-teenager"><circle class="cg" cx="1380" cy="2023" r="32"/></g>
<g id="n-cum"><circle class="cg" cx="1335" cy="1993" r="32"/></g>
<g id="n-college"><circle class="cg" cx="1313" cy="1940" r="32"/></g>
<g id="n-squirting"><circle class="cg" cx="1317" cy="1883" r="32"/></g>
<g id="n-orgasm"><circle class="cg" cx="1350" cy="1843" r="32"/></g>
<g id="n-couples"><circle class="cg" cx="1380" cy="1790" r="32"/></g>
<g id="n-rough"><circle class="cg" cx="1430" cy="1783" r="32"/></g>
<g id="n-deepthroat"><circle class="cy" cx="1966" cy="2037" r="32"/></g>
<g id="n-glasses"><circle class="cy" cx="2020" cy="2043" r="32"/></g>
<g id="n-doggy"><circle class="cy" cx="2072" cy="2067" r="32"/></g>
<g id="n-prone-bone"><circle class="cy" cx="2090" cy="2113" r="32"/></g>
<g id="n-bouncing-tits"><circle class="cy" cx="2130" cy="2147" r="32"/></g>
<g id="n-natural-tits"><circle class="cy" cx="2113" cy="2197" r="32"/></g>
<g id="n-brazzers"><circle class="cy" cx="2115" cy="2247" r="32"/></g>
<g id="n-huge-tits"><circle class="cy" cx="2093" cy="2300" r="32"/></g>
<g id="n-side-fuck"><circle class="cy" cx="2041" cy="2313" r="32"/></g>
<g id="n-cum-on-tits"><circle class="cy" cx="1987" cy="2343" r="32"/></g>
<g id="n-cum-in-pussy"><circle class="cy" cx="1930" cy="2327" r="32"/></g>
<g id="n-3some"><circle class="cy" cx="1875" cy="2347" r="32"/></g>
<g id="n-facial"><circle class="cy" cx="1863" cy="2283" r="32"/></g>
<g id="n-missionary"><circle class="cy" cx="1820" cy="2255" r="32"/></g>
<g id="n-titty-fuck"><circle class="cy" cx="1798" cy="2200" r="32"/></g>
<g id="n-ball-sucking"><circle class="cy" cx="1802" cy="2145" r="32"/></g>
<g id="n-point-of-view"><circle class="cy" cx="1835" cy="2103" r="32"/></g>
<g id="n-doggystyle"><circle class="cy" cx="1865" cy="2052" r="32"/></g>
<g id="n-cowgirl"><circle class="cy" cx="1917" cy="2057" r="32"/></g>
<g id="n-shaved-pussy"><circle class="co" cx="1500" cy="2403" r="32"/></g>
<g id="n-masturbation"><circle class="co" cx="1560" cy="2412" r="32"/></g>
<g id="n-deep-throating"><circle class="co" cx="1617" cy="2450" r="32"/></g>
<g id="n-small-tits"><circle class="co" cx="1663" cy="2507" r="32"/></g>
<g id="n-stepsister"><circle class="co" cx="1643" cy="2540" r="32"/></g>
<g id="n-female-orgasm"><circle class="co" cx="1652" cy="2600" r="32"/></g>
<g id="n-pussy-licking"><circle class="co" cx="1635" cy="2662" r="32"/></g>
<g id="n-pov"><circle class="co" cx="1577" cy="2693" r="32"/></g>
<g id="n-brunette"><circle class="co" cx="1522" cy="2708" r="32"/></g>
<g id="n-blonde"><circle class="co" cx="1460" cy="2695" r="32"/></g>
<g id="n-redhead"><circle class="co" cx="1398" cy="2705" r="32"/></g>
<g id="n-rough-sex"><circle class="co" cx="1385" cy="2642" r="32"/></g>
<g id="n-hairy-pussy"><circle class="co" cx="1343" cy="2597" r="32"/></g>
<g id="n-hot-milf"><circle class="co" cx="1333" cy="2532" r="32"/></g>
<g id="n-blowjob"><circle class="co" cx="1363" cy="2485" r="32"/></g>
<g id="n-cum-shot"><circle class="co" cx="1392" cy="2432" r="32"/></g>
<g id="n-stepbrother"><circle class="co" cx="1448" cy="2423" r="32"/></g>
<g id="n-curvy"><circle class="cr" cx="1615" cy="2810" r="32"/></g>
<g id="n-milf"><circle class="cr" cx="1687" cy="2812" r="32"/></g>
<g id="n-big-ass"><circle class="cr" cx="1753" cy="2845" r="32"/></g>
<g id="n-big-dick"><circle class="cr" cx="1803" cy="2907" r="32"/></g>
<g id="n-big-tits"><circle class="cr" cx="1785" cy="2962" r="32"/></g>
<g id="n-asian"><circle class="cr" cx="1785" cy="3025" r="32"/></g>
<g id="n-threesome"><circle class="cr" cx="1752" cy="3083" r="32"/></g>
<g id="n-cheating"><circle class="cr" cx="1670" cy="3100" r="32"/></g>
<g id="n-cumshot"><circle class="cr" cx="1590" cy="3085" r="32"/></g>
<g id="n-latina"><circle class="cr" cx="1547" cy="3108" r="32"/></g>
<g id="n-stepmom"><circle class="cr" cx="1495" cy="3017" r="32"/></g>
<g id="n-hard-rough-sex"><circle class="cr" cx="1478" cy="2937" r="32"/></g>
<g id="n-roleplay"><circle class="cr" cx="1518" cy="2890" r="32"/></g>
<g id="n-step-mom"><circle class="cr" cx="1543" cy="2830" r="32"/></g>
<g id="n-taboo"><circle class="cl" cx="879" cy="2493" r="32"/></g>
<g id="n-step-sis"><circle class="cl" cx="960" cy="2483" r="32"/></g>
<g id="n-18-year-cute-girl"><circle class="cl" cx="1036" cy="2515" r="32"/></g>
<g id="n-step-fantasy"><circle class="cl" cx="1095" cy="2580" r="32"/></g>
<g id="n-perfect-body"><circle class="cl" cx="1079" cy="2643" r="32"/></g>
<g id="n-pov-blowjob"><circle class="cl" cx="1077" cy="2712" r="32"/></g>
<g id="n-step-sister"><circle class="cl" cx="1039" cy="2773" r="32"/></g>
<g id="n-step-brother"><circle class="cl" cx="948" cy="2790" r="32"/></g>
<g id="n-amateur-blowjob"><circle class="cl" cx="840" cy="2798" r="32"/></g>
<g id="n-familly-therapy"><circle class="cl" cx="826" cy="2738" r="32"/></g>
<g id="n-cowgirl-riding"><circle class="cl" cx="771" cy="2677" r="32"/></g>
<g id="n-pawg"><circle class="cl" cx="767" cy="2587" r="32"/></g>
<g id="n-stepsis"><circle class="cl" cx="821" cy="2542" r="32"/></g>
<g id="n-sucking-dick"><circle class="cx" cx="3057" cy="2048" r="32"/></g>
<g id="n-ass-fuck"><circle class="cx" cx="2940" cy="2065" r="32"/></g>
<g id="n-suck"><circle class="cx" cx="3140" cy="2117" r="32"/></g>
<g id="n-blacked"><circle class="cx" cx="2850" cy="2143" r="32"/></g>
<g id="n-anal"><circle class="cx" cx="3182" cy="2213" r="32"/></g>
<g id="n-interracial"><circle class="cx" cx="2872" cy="2253" r="32"/></g>
<g id="n-riding"><circle class="cx" cx="3152" cy="2320" r="32"/></g>
<g id="n-bbc"><circle class="cx" cx="2908" cy="2358" r="32"/></g>
<g id="n-anal-sex"><circle class="cx" cx="3035" cy="2355" r="32"/></g>
<g id="n-big-tits-milf"><circle class="cu" cx="850" cy="1355" r="32"/></g>
<g id="n-tight-pussy"><circle class="cu" cx="714" cy="1415" r="32"/></g>
<g id="n-big-natural-boobs"><circle class="cu" cx="952" cy="1425" r="32"/></g>
<g id="n-real"><circle class="cu" cx="1009" cy="1538" r="32"/></g>
<g id="n-real-couple-homemade"><circle class="cu" cx="694" cy="1565" r="32"/></g>
<g id="n-skinny"><circle class="cu" cx="805" cy="1730" r="32"/></g>
<g id="n-perfect-ass"><circle class="cu" cx="969" cy="1726" r="32"/></g>
<g id="n-squirt"><circle class="cw" cx="225" cy="2193" r="32"/></g>
<g id="n-18-year-old"><circle class="cw" cx="410" cy="2233" r="32"/></g>
<g id="n-sloppy-blowjob"><circle class="cw" cx="154" cy="2378" r="32"/></g>
<g id="n-deep-throat"><circle class="cw" cx="482" cy="2427" r="32"/></g>
<g id="n-dirty-talk"><circle class="cw" cx="305" cy="2490" r="32"/></g>
<g id="n-trimmed-pussy"><circle class="cz" cx="2248" cy="397" r="32"/></g>
<g id="n-pov-sex"><circle class="cz" cx="2353" cy="722" r="32"/></g>
<g id="n-handjob"><circle class="cz" cx="2383" cy="3146" r="32"/></g>
<g id="n-oral-sex"><circle class="cz" cx="2157" cy="3292" r="32"/></g>
<g id="n-stepson"><circle class="cz" cx="2422" cy="3434" r="32"/></g>
<g id="n-lingerie"><circle class="ct" cx="2606" cy="2622" r="32"/></g>
<g id="n-butt"><circle class="ct" cx="2367" cy="2765" r="32"/></g>
<g id="n-creampie"><circle class="ct" cx="2644" cy="2898" r="32"/></g>
</g>
<g id="labels">
<text id="l-big-boobs" x="1790" y="1505">big-boobs</text>
<text id="l-big-ass-latina" x="1865" y="1505">big-ass-latina</text>
<text id="l-pornstar" x="1928" y="1538">pornstar</text>
<text id="l-hard-fuck" x="1978" y="1600">hard-fuck</text>
<text id="l-riding-dick" x="1960" y="1657">riding-dick</text>
<text id="l-rimming" x="1960" y="1720">rimming</text>
<text id="l-cum-in-mouth" x="1927" y="1777">cum-in-mouth</text>
<text id="l-busty" x="1843" y="1793">busty</text>
<text id="l-big-booty" x="1767" y="1778">big-booty</text>
<text id="l-pussy-eating" x="1723" y="1802">pussy-eating</text>
<text id="l-big-natural-tits" x="1672" y="1712">big-natural-tits</text>
<text id="l-big-butt" x="1653" y="1630">big-butt</text>
<text id="l-big-cock" x="1693" y="1583">big-cock</text>
<text id="l-wet-pussy" x="1718" y="1525">wet-pussy</text>
<text id="l-fingering" x="2360" y="1667">fingering</text>
<text id="l-perky-tits" x="2432" y="1672">perky-tits</text>
<text id="l-amateur-couple" x="2497" y="1708">amateur-couple</text>
<text id="l-cock-sucking" x="2548" y="1768">cock-sucking</text>
<text id="l-bald-pussy" x="2532" y="1825">bald-pussy</text>
<text id="l-close-up" x="2528" y="1888">close-up</text>
<text id="l-tattoo" x="2495" y="1945">tattoo</text>
<text id="l-hand-job" x="2413" y="1960">hand-job</text>
<text id="l-kissing" x="2335" y="1945">kissing</text>
<text id="l-bubble-butt" x="2290" y="1967">bubble-butt</text>
<text id="l-reverse-cowgirl" x="2240" y="1878">reverse-cowgirl</text>
<text id="l-doggy-style" x="2222" y="1798">doggy-style</text>
<text id="l-slim" x="2262" y="1750">slim</text>
<text id="l-cum-on-face" x="2287" y="1692">cum-on-face</text>
<text id="l-public" x="1478" y="1775">public</text>
<text id="l-cum-inside" x="1533" y="1780">cum-inside</text>
<text id="l-babe" x="1583" y="1807">babe</text>
<text id="l-homemade" x="1607" y="1850">homemade</text>
<text id="l-submissive" x="1649" y="1883">submissive</text>
<text id="l-petite" x="1628" y="1937">petite</text>
<text id="l-russian" x="1628" y="1987">russian</text>
<text id="l-teen" x="1608" y="2037">teen</text>
<text id="l-hardcore" x="1555" y="2055">hardcore</text>
<text id="l-loud-moaning" x="1502" y="2080">loud-moaning</text>
<text id="l-extreme" x="1448" y="2065">extreme</text>
<text id="l-amateur" x="1387" y="2080">amateur</text>
<text id="l-teenager" x="1380" y="2023">teenager</text>
<text id="l-cum" x="1335" y="1993">cum</text>
<text id="l-college" x="1313" y="1940">college</text>
<text id="l-squirting" x="1317" y="1883">squirting</text>
<text id="l-orgasm" x="1350" y="1843">orgasm</text>
<text id="l-couples" x="1380" y="1790">couples</text>
<text id="l-rough" x="1430" y="1783">rough</text>
<text id="l-deepthroat" x="1966" y="2037">deepthroat</text>
<text id="l-glasses" x="2020" y="2043">glasses</text>
<text id="l-doggy" x="2072" y="2067">doggy</text>
<text id="l-prone-bone" x="2090" y="2113">prone-bone</text>
<text id="l-bouncing-tits" x="2130" y="2147">bouncing-tits</text>
<text id="l-natural-tits" x="2113" y="2197">natural-tits</text>
<text id="l-brazzers" x="2115" y="2247">brazzers</text>
<text id="l-huge-tits" x="2093" y="2300">huge-tits</text>
<text id="l-side-fuck" x="2041" y="2313">side-fuck</text>
<text id="l-cum-on-tits" x="1987" y="2343">cum-on-tits</text>
<text id="l-cum-in-pussy" x="1930" y="2327">cum-in-pussy</text>
<text id="l-3some" x="1875" y="2347">3some</text>
<text id="l-facial" x="1863" y="2283">facial</text>
<text id="l-missionary" x="1820" y="2255">missionary</text>
<text id="l-titty-fuck" x="1798" y="2200">titty-fuck</text>
<text id="l-ball-sucking" x="1802" y="2145">ball-sucking</text>
<text id="l-point-of-view" x="1835" y="2103">point-of-view</text>
<text id="l-doggystyle" x="1865" y="2052">doggystyle</text>
<text id="l-cowgirl" x="1917" y="2057">cowgirl</text>
<text id="l-shaved-pussy" x="1500" y="2403">shaved-pussy</text>
<text id="l-masturbation" x="1560" y="2412">masturbation</text>
<text id="l-deep-throating" x="1617" y="2450">deep-throating</text>
<text id="l-small-tits" x="1663" y="2507">small-tits</text>
<text id="l-stepsister" x="1643" y="2540">stepsister</text>
<text id="l-female-orgasm" x="1652" y="2600">female-orgasm</text>
<text id="l-pussy-licking" x="1635" y="2662">pussy-licking</text>
<text id="l-pov" x="1577" y="2693">pov</text>
<text id="l-brunette" x="1522" y="2708">brunette</text>
<text id="l-blonde" x="1460" y="2695">blonde</text>
<text id="l-redhead" x="1398" y="2705">redhead</text>
<text id="l-rough-sex" x="1385" y="2642">rough-sex</text>
<text id="l-hairy-pussy" x="1343" y="2597">hairy-pussy</text>
<text id="l-hot-milf" x="1333" y="2532">hot-milf</text>
<text id="l-blowjob" x="1363" y="2485">blowjob</text>
<text id="l-cum-shot" x="1392" y="2432">cum-shot</text>
<text id="l-stepbrother" x="1448" y="2423">stepbrother</text>
<text id="l-curvy" x="1615" y="2810">curvy</text>
<text id="l-milf" x="1687" y="2812">milf</text>
<text id="l-big-ass" x="1753" y="2845">big-ass</text>
<text id="l-big-dick" x="1803" y="2907">big-dick</text>
<text id="l-big-tits" x="1785" y="2962">big-tits</text>
<text id="l-asian" x="1785" y="3025">asian</text>
<text id="l-threesome" x="1752" y="3083">threesome</text>
<text id="l-cheating" x="1670" y="3100">cheating</text>
<text id="l-cumshot" x="1590" y="3085">cumshot</text>
<text id="l-latina" x="1547" y="3108">latina</text>
<text id="l-stepmom" x="1495" y="3017">stepmom</text>
<text id="l-hard-rough-sex" x="1478" y="2937">hard-rough-sex</text>
<text id="l-roleplay" x="1518" y="2890">roleplay</text>
<text id="l-step-mom" x="1543" y="2830">step-mom</text>
<text id="l-taboo" x="879" y="2493">taboo</text>
<text id="l-step-sis" x="960" y="2483">step-sis</text>
<text id="l-18-year-cute-girl" x="1036" y="2515">18-year-cute-girl</text>
<text id="l-step-fantasy" x="1095" y="2580">step-fantasy</text>
<text id="l-perfect-body" x="1079" y="2643">perfect-body</text>
<text id="l-pov-blowjob" x="1077" y="2712">pov-blowjob</text>
<text id="l-step-sister" x="1039" y="2773">step-sister</text>
<text id="l-step-brother" x="948" y="2790">step-brother</text>
<text id="l-amateur-blowjob" x="840" y="2798">amateur-blowjob</text>
<text id="l-familly-therapy" x="826" y="2738">familly-therapy</text>
<text id="l-cowgirl-riding" x="771" y="2677">cowgirl-riding</text>
<text id="l-pawg" x="767" y="2587">pawg</text>
<text id="l-stepsis" x="821" y="2542">stepsis</text>
<text id="l-sucking-dick" x="3057" y="2048">sucking-dick</text>
<text id="l-ass-fuck" x="2940" y="2065">ass-fuck</text>
<text id="l-suck" x="3140" y="2117">suck</text>
<text id="l-blacked" x="2850" y="2143">blacked</text>
<text id="l-anal" x="3182" y="2213">anal</text>
<text id="l-interracial" x="2872" y="2253">interracial</text>
<text id="l-riding" x="3152" y="2320">riding</text>
<text id="l-bbc" x="2908" y="2358">bbc</text>
<text id="l-anal-sex" x="3035" y="2355">anal-sex</text>
<text id="l-big-tits-milf" x="850" y="1355">big-tits-milf</text>
<text id="l-tight-pussy" x="714" y="1415">tight-pussy</text>
<text id="l-big-natural-boobs" x="952" y="1425">big-natural-boobs</text>
<text id="l-real" x="1009" y="1538">real</text>
<text id="l-real-couple-homemade" x="694" y="1565">real-couple-homemade</text>
<text id="l-skinny" x="805" y="1730">skinny</text>
<text id="l-perfect-ass" x="969" y="1726">perfect-ass</text>
<text id="l-squirt" x="225" y="2193">squirt</text>
<text id="l-18-year-old" x="410" y="2233">18-year-old</text>
<text id="l-sloppy-blowjob" x="154" y="2378">sloppy-blowjob</text>
<text id="l-deep-throat" x="482" y="2427">deep-throat</text>
<text id="l-dirty-talk" x="305" y="2490">dirty-talk</text>
<text id="l-trimmed-pussy" x="2248" y="397">trimmed-pussy</text>
<text id="l-pov-sex" x="2353" y="722">pov-sex</text>
<text id="l-handjob" x="2383" y="3146">handjob</text>
<text id="l-oral-sex" x="2157" y="3292">oral-sex</text>
<text id="l-stepson" x="2422" y="3434">stepson</text>
<text id="l-lingerie" x="2606" y="2622">lingerie</text>
<text id="l-butt" x="2367" y="2765">butt</text>
<text id="l-creampie" x="2644" y="2898">creampie</text>
</g>
</svg>
